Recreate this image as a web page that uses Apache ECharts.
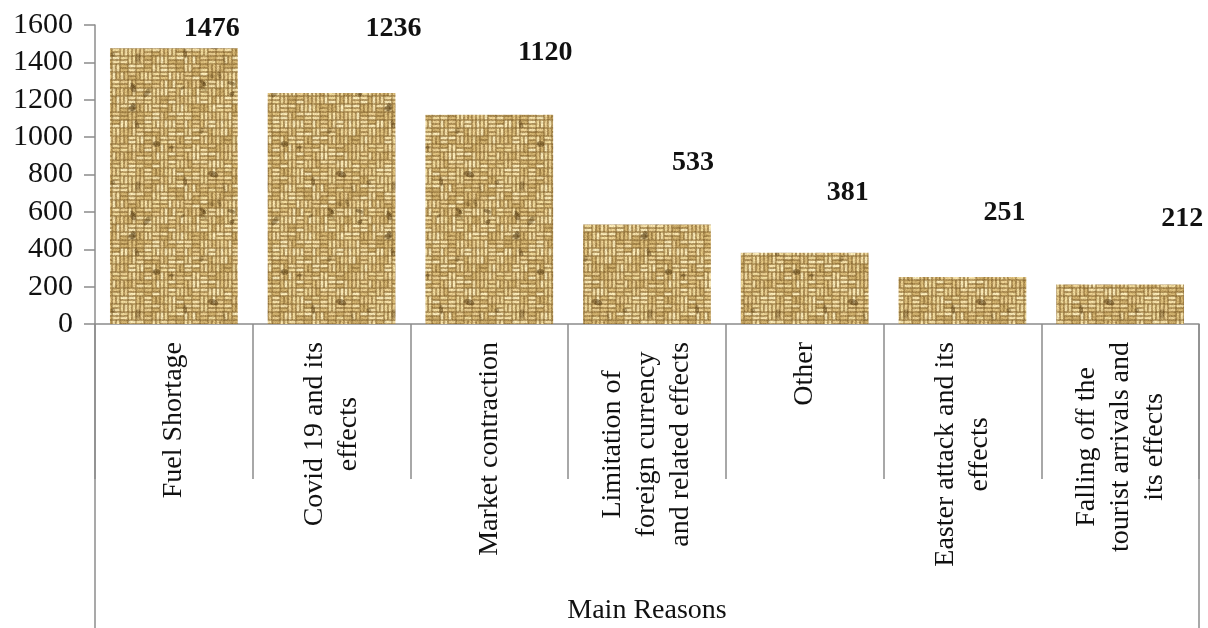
<!DOCTYPE html>
<html>
<head>
<meta charset="utf-8">
<script src="https://cdn.jsdelivr.net/npm/echarts@6/dist/echarts.min.js"></script>
<style>
  html, body { margin: 0; padding: 0; background: #fff; }
  #chart { width: 1208px; height: 628px; }
</style>
</head>
<body>
<div id="chart"></div>
<script>
// Number of establishments by main reason
const categories = [
  'Fuel Shortage',
  'Covid 19 and its\neffects',
  'Market contraction',
  'Limitation of\nforeign currency\nand related effects',
  'Other',
  'Easter attack and its\neffects',
  'Falling off the\ntourist arrivals and\nits effects'
];
const counts = [1476, 1236, 1120, 533, 381, 251, 212];
const axisTitle = 'Main Reasons';
const yMin = 0, yMax = 1600, yStep = 200;

const SERIF = '"Liberation Serif", "Times New Roman", serif';
const AXIS_GREY = '#8c8c8c';
const GRID = { left: 95, right: 9, top: 25, bottom: 304 };
const W = 1208, H = 628;

// value labels sit up and to the right of each bar
const labelNudge = [[38, 0], [62, -45], [56, -43], [46, -43], [43, -41], [42, -45], [62, -47]];

// Burlap-like woven tile used as the bar fill
function weaveTile() {
  const size = 128;
  const c = document.createElement('canvas');
  c.width = size; c.height = size;
  const ctx = c.getContext('2d');
  let seed = 24681;
  const rnd = () => (seed = (seed * 16807) % 2147483647) / 2147483647;
  ctx.fillStyle = '#8f6f36';
  ctx.fillRect(0, 0, size, size);
  const cell = 8;
  const n = size / cell;
  const lights = ['#eed9a2', '#e4c98c', '#d9bc7a', '#e9d396', '#cdae6c', '#f2e2b0'];
  for (let cy = 0; cy < n; cy++) {
    for (let cx = 0; cx < n; cx++) {
      // twill-like stepping with some irregularity
      let horiz = ((cx + cy) % 4) < 2;
      if (rnd() < 0.2) horiz = !horiz;
      for (let t = 0; t < 2; t++) {
        ctx.fillStyle = lights[Math.floor(rnd() * lights.length)];
        if (horiz) {
          ctx.fillRect(cx * cell + 0.5, cy * cell + t * 4 + 0.6, cell - 1, 2.8);
        } else {
          ctx.fillRect(cx * cell + t * 4 + 0.6, cy * cell + 0.5, 2.8, cell - 1);
        }
      }
    }
  }
  // darker fibres and specks
  for (let k = 0; k < 22; k++) {
    ctx.fillStyle = 'rgba(95,68,25,' + (0.25 + rnd() * 0.35) + ')';
    const x = rnd() * size, y = rnd() * size;
    ctx.beginPath();
    ctx.ellipse(x, y, 2 + rnd() * 3.5, 1 + rnd() * 2, rnd() * Math.PI, 0, Math.PI * 2);
    ctx.fill();
  }
  const img = ctx.getImageData(0, 0, size, size);
  for (let i = 0; i < img.data.length; i += 4) {
    const d = (rnd() - 0.5) * 30;
    img.data[i] = Math.max(0, Math.min(255, img.data[i] + d));
    img.data[i + 1] = Math.max(0, Math.min(255, img.data[i + 1] + d));
    img.data[i + 2] = Math.max(0, Math.min(255, img.data[i + 2] + d * 0.8));
  }
  ctx.putImageData(img, 0, 0);
  // soften slightly, wrapping edges so the tile repeats cleanly
  const out = document.createElement('canvas');
  out.width = size; out.height = size;
  const o = out.getContext('2d');
  o.filter = 'blur(0.7px)';
  for (let dx = -1; dx <= 1; dx++) {
    for (let dy = -1; dy <= 1; dy++) o.drawImage(c, dx * size, dy * size);
  }
  return out;
}

const chart = echarts.init(document.getElementById('chart'), null, { renderer: 'canvas' });
const axisLine = { color: AXIS_GREY, width: 1.5 };

chart.setOption({
  animation: false,
  grid: Object.assign({ outerBoundsMode: 'none', containLabel: false }, GRID),
  xAxis: {
    type: 'category',
    data: categories,
    boundaryGap: true,
    axisLine: { show: true, lineStyle: axisLine },
    axisTick: { show: true, interval: 0, length: 155, lineStyle: axisLine },
    axisLabel: { show: false },
    name: axisTitle,
    nameLocation: 'middle',
    nameGap: 273,
    nameTextStyle: { fontFamily: SERIF, fontSize: 28, color: '#111' }
  },
  yAxis: {
    type: 'value',
    min: yMin, max: yMax, interval: yStep,
    axisLine: { show: true, lineStyle: axisLine },
    axisTick: { show: true, length: 11, lineStyle: axisLine },
    splitLine: { show: false },
    axisLabel: {
      fontFamily: SERIF, fontSize: 30, color: '#111', margin: 22,
      formatter: v => String(v)
    }
  },
  series: [{
    type: 'bar',
    data: counts.map((v, i) => ({ value: v, label: { offset: labelNudge[i] } })),
    barCategoryGap: '19%',
    itemStyle: { color: { image: weaveTile(), repeat: 'repeat' } },
    label: {
      show: true, position: 'top', distance: 5,
      fontFamily: SERIF, fontWeight: 'bold', fontSize: 28, color: '#111'
    }
  }]
});

// Rotated category labels, lines centred, block ending just below the axis
const measure = document.createElement('canvas').getContext('2d');
measure.font = '28px ' + SERIF;
const axisY = H - GRID.bottom;
const graphics = categories.map((txt, i) => {
  const lines = txt.split('\n');
  const longest = Math.max(...lines.map(l => measure.measureText(l).width));
  const cx = chart.convertToPixel({ xAxisIndex: 0 }, i);
  return {
    type: 'text',
    x: cx,
    y: axisY + 18 + longest / 2,
    rotation: Math.PI / 2,
    silent: true,
    style: {
      text: txt,
      font: '28px ' + SERIF,
      fill: '#111',
      align: 'center', textAlign: 'center',
      verticalAlign: 'middle', textVerticalAlign: 'middle',
      lineHeight: 34
    }
  };
});
// outer frame lines of the category area
[GRID.left, W - GRID.right].forEach(x => {
  graphics.push({
    type: 'line', silent: true,
    shape: { x1: x, y1: axisY, x2: x, y2: H },
    style: { stroke: AXIS_GREY, lineWidth: 1.5 }
  });
});
chart.setOption({ graphic: graphics });
</script>
</body>
</html>
